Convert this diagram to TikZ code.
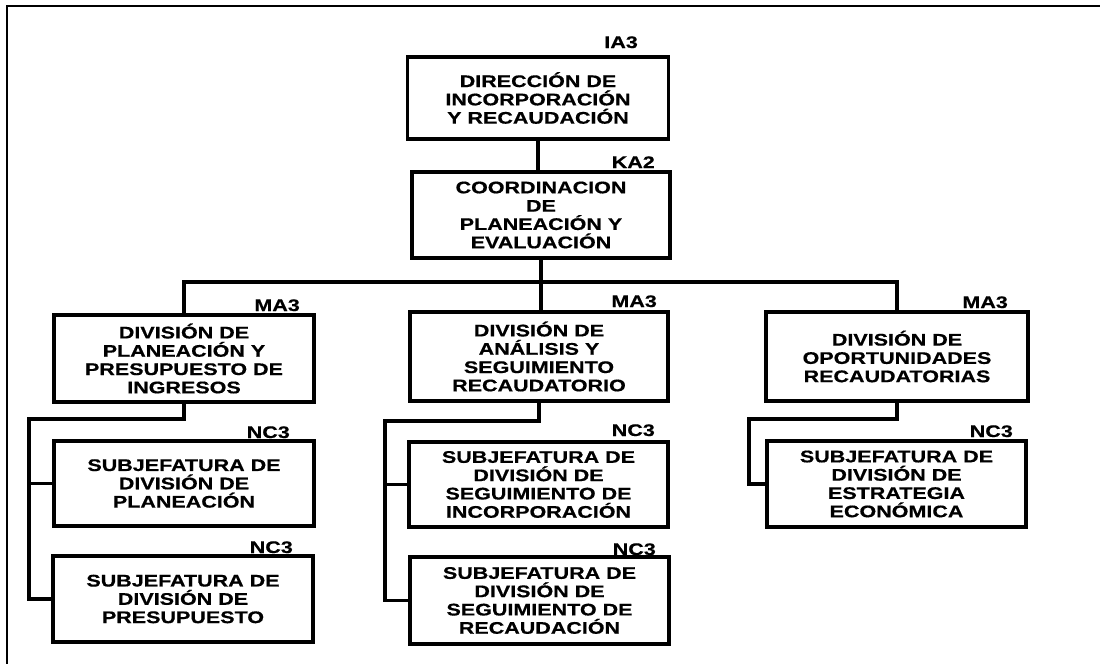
\documentclass[tikz,border=0pt]{standalone}
\usepackage{fontspec}
\newfontfamily\boxfont[FakeStretch=1.28,BoldFeatures={FakeBold=0.6}]{Liberation Sans}
\begin{document}
\begin{tikzpicture}[x=1pt,y=-1pt,
  txt/.style={font=\boxfont\bfseries\fontsize{16.8}{18.3}\selectfont},
  box/.style={txt,draw,line width=3.3pt,align=center,inner sep=0pt},
  lvl/.style={txt,anchor=base east,inner sep=0pt},
  link/.style={line width=3.2pt}]
\useasboundingbox (0,0) rectangle (1100,664);
\draw[line width=2pt] (1100,6) -- (7,6) -- (7,664);

\node[box,minimum width=261pt,minimum height=82pt] (dir) at (538,98)
  {DIRECCIÓN DE\\INCORPORACIÓN\\Y RECAUDACIÓN};
\node[box,minimum width=258pt,minimum height=86pt] (coord) at (541,215)
  {COORDINACION\\DE\\PLANEACIÓN Y\\EVALUACIÓN};
\node[box,minimum width=260pt,minimum height=87pt] (divA) at (184,358.5)
  {DIVISIÓN DE\\PLANEACIÓN Y\\PRESUPUESTO DE\\INGRESOS};
\node[box,minimum width=258pt,minimum height=89pt] (divB) at (539,356.5)
  {DIVISIÓN DE\\ANÁLISIS Y\\SEGUIMIENTO\\RECAUDATORIO};
\node[box,minimum width=262pt,minimum height=89pt] (divC) at (897,356.5)
  {DIVISIÓN DE\\OPORTUNIDADES\\RECAUDATORIAS};
\node[box,minimum width=260pt,minimum height=85pt] (subA1) at (184,483.5)
  {SUBJEFATURA DE\\DIVISIÓN DE\\PLANEACIÓN};
\node[box,minimum width=260pt,minimum height=86pt] (subA2) at (183,599)
  {SUBJEFATURA DE\\DIVISIÓN DE\\PRESUPUESTO};
\node[box,minimum width=259pt,minimum height=85pt] (subB1) at (538.5,484.5)
  {SUBJEFATURA DE\\DIVISIÓN DE\\SEGUIMIENTO DE\\INCORPORACIÓN};
\node[box,minimum width=259pt,minimum height=87pt] (subB2) at (539.5,600.5)
  {SUBJEFATURA DE\\DIVISIÓN DE\\SEGUIMIENTO DE\\RECAUDACIÓN};
\node[box,minimum width=259pt,minimum height=86pt] (subC1) at (896.5,484)
  {SUBJEFATURA DE\\DIVISIÓN DE\\ESTRATEGIA\\ECONÓMICA};

\node[lvl] (lDir) at (638,48) {IA3};
\node[lvl] (lCoord) at (655,168) {KA2};
\node[lvl] (lDivA) at (300,311) {MA3};
\node[lvl] (lDivB) at (657,307) {MA3};
\node[lvl] (lDivC) at (1008,308) {MA3};
\node[lvl] (lSubA1) at (290,438) {NC3};
\node[lvl] (lSubA2) at (293,553) {NC3};
\node[lvl] (lSubB1) at (655,436) {NC3};
\node[lvl] (lSubB2) at (656,555) {NC3};
\node[lvl] (lSubC1) at (1013,437) {NC3};

\coordinate (bus) at (0,282);
\coordinate (tA) at (29,419);
\coordinate (tB) at (385,421);
\coordinate (tC) at (749,419);

\draw[link] (dir.south) -- (dir.south |- coord.north);
\draw[link] (coord.south) -- (coord.south |- divB.north);
\draw[link] (divA.north) -- (divA.north |- bus) -- (divC.north |- bus) -- (divC.north);
\draw[link] (divA.south) |- (tA) |- (subA2.west);
\draw[link] (tA |- subA1.west) -- (subA1.west);
\draw[link] (divB.south) |- (tB) |- (subB2.west);
\draw[link] (tB |- subB1.west) -- (subB1.west);
\draw[link] (divC.south) |- (tC) |- (subC1.west);
\end{tikzpicture}
\end{document}
